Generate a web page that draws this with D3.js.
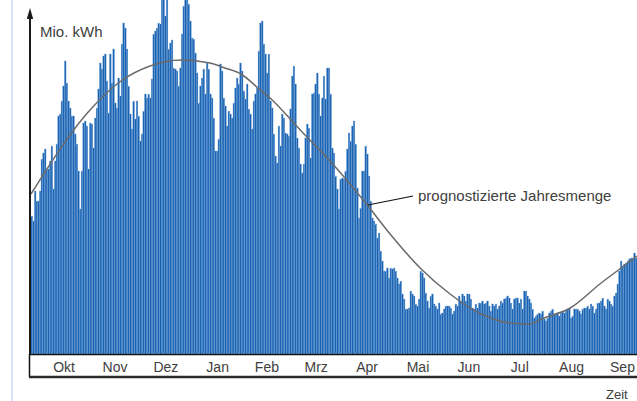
<!DOCTYPE html>
<html>
<head>
<meta charset="utf-8">
<script src="https://cdn.jsdelivr.net/npm/d3@7"></script>
<style>
body { margin: 0; background: #fff; }
#chart { width: 637px; height: 401px; }
text { font-family: "Liberation Sans", Arial, sans-serif; fill: #404040; }
</style>
</head>
<body>
<div id="chart"></div>
<script>
// daily energy, Mio. kWh
var dailyAutumn = [13.8, 13.3, 16.3, 15.3, 15.3, 16.3, 19.5, 20.1, 20.5, 18.5, 18.5, 19.3, 20.8, 16.5, 19.3, 21.0, 23.8, 24.0, 25.3, 26.8,
    29.3, 27.1, 25.3, 24.6, 23.8, 23.8, 22.0, 21.0, 18.3, 14.5, 18.3, 23.1, 23.3, 22.8,
    18.5, 23.1, 23.0, 20.6, 23.6, 24.6, 26.5, 29.1, 28.5, 29.8, 30.0, 27.3, 24.1, 30.0, 27.1, 30.5, 25.1, 24.6, 27.6, 25.8,
    31.0, 33.1, 32.6, 30.5, 26.8, 24.0, 22.5, 25.3, 23.5, 25.3, 23.8, 21.3, 22.0, 24.3, 26.0, 25.6,
    26.0, 25.6, 27.5, 32.0, 32.3, 32.6, 33.1, 33.0, 35.5, 35.5, 33.8, 35.5, 30.5, 31.1, 31.4, 28.6, 28.5, 28.3, 26.8, 28.6,
    32.0, 34.8, 35.5, 35.5, 35.0, 33.3, 31.6, 31.5, 30.1, 28.1, 25.1, 26.8, 27.6, 28.5, 26.0, 29.1];
var dailyWinter = [28.5, 26.0, 25.6, 23.6, 20.3, 20.3, 21.5, 29.0, 28.3, 25.6, 24.8, 22.8, 24.3, 24.0, 23.6, 25.1, 26.6, 27.6,
    27.0, 29.1, 28.3, 26.3, 25.5, 27.0, 24.5, 24.0, 22.5, 25.3, 26.0, 26.6, 30.3, 33.1, 33.3, 31.0, 30.0, 28.1,
    30.0, 25.3, 24.6, 22.0, 19.8, 19.1, 22.8, 20.8, 24.0, 23.6, 22.1, 22.0, 21.8, 24.5, 27.8, 28.8, 27.0, 21.6,
    20.6, 19.0, 18.1, 19.0, 21.6, 23.0, 22.6, 19.6, 26.0, 26.1, 27.0, 28.1, 26.0, 23.8, 25.6, 27.8, 25.5, 28.6];
var dailySpring = [28.6, 26.0, 20.6, 20.1, 17.8, 16.5, 14.5, 17.5, 17.6, 17.5, 18.3, 20.5, 22.1, 21.3, 22.8, 23.3, 21.0, 16.6,
    13.6, 14.6, 18.3, 18.3, 20.8, 20.0, 17.8, 15.3, 13.6, 13.3, 13.0, 11.6, 12.1, 10.3, 9.3, 8.3, 8.3, 8.6,
    7.6, 8.6, 8.5, 8.6, 8.3, 7.6, 7.0, 7.3, 6.0, 5.5, 4.5, 4.5, 4.6, 6.3, 6.0, 5.8, 5.0, 4.8,
    5.5, 8.3, 8.1, 7.6, 6.1, 5.3, 4.6, 5.8, 6.0, 5.0, 4.8, 4.5, 5.1, 4.0, 4.1, 4.5, 4.8, 4.8];
var dailySummer = [4.8, 4.6, 4.0, 4.3, 5.0, 4.8, 5.8, 5.3, 6.0, 5.8, 5.3, 6.0, 6.0, 5.5, 4.6, 4.5, 5.0, 4.6,
    5.1, 5.1, 5.3, 5.0, 5.1, 5.3, 4.8, 4.3, 5.0, 4.8, 5.0, 4.5, 4.8, 5.3, 5.1, 5.5, 5.6, 5.8,
    5.6, 5.1, 4.5, 5.5, 5.6, 5.6, 5.1, 5.5, 4.5, 6.3, 6.3, 5.8, 5.5, 5.1, 4.5, 3.6, 3.8, 4.0,
    4.1, 4.0, 4.3, 3.5, 3.3, 3.6, 4.1, 4.3, 4.5, 4.0, 4.0, 4.1, 3.8, 4.1, 4.3, 4.1, 4.3, 4.5,
    4.5, 3.6, 3.8, 4.5, 4.5, 4.5, 4.3, 4.0, 4.5, 4.6, 4.6, 4.8, 4.5, 5.0, 4.8, 4.1, 4.5, 5.1, 5.1, 5.3,
    5.6, 4.8, 4.5, 5.5, 5.3, 5.0, 4.8, 5.8, 6.1, 7.0, 8.3, 9.3, 8.8, 9.0, 9.1, 9.3, 9.5, 9.6, 9.6, 10.1, 9.6];

// forecast curve: day since start, Mio. kWh
var forecastDay = [0, 34.8, 53.9, 71.3, 89.9, 107.2, 116.2, 125.8, 136, 143.2, 161.8, 179.1, 201.9, 215.1, 233.7, 251,
    269.6, 287, 299, 305.6, 323, 341.5, 353.5, 363];
var forecastValue = [16.0, 24.3, 27.3, 28.8, 29.4, 29.1, 28.6, 28.0, 26.6, 25.6, 22.3, 19.3, 14.8, 12.0, 8.5, 6.0,
    4.0, 3.1, 3.0, 3.5, 4.6, 7.1, 8.6, 9.8];

var monthLabels = ["Okt", "Nov", "Dez", "Jan", "Feb", "Mrz", "Apr", "Mai", "Jun", "Jul", "Aug", "Sep"];
var yLabel = "Mio. kWh",
    xLabel = "Zeit",
    forecastLabel = "prognostizierte Jahresmenge";

var values = dailyAutumn.concat(dailyWinter, dailySpring, dailySummer);
var startDate = new Date(2012, 8, 27);
var data = values.map(function (v, i) {
    return { date: d3.timeDay.offset(startDate, i), value: v };
});

var width = 637,
    height = 401;

var svg = d3.select("#chart")
    .append("svg")
    .attr("width", width)
    .attr("height", height);

var x = d3.scaleTime()
    .domain([startDate, d3.timeDay.offset(startDate, values.length)])
    .range([31, 637]);
var y = d3.scaleLinear()
    .domain([0, 35])
    .range([354, 4]);

// light blue page rule on the left
svg.append("rect")
    .attr("x", 11)
    .attr("y", 0)
    .attr("width", 2)
    .attr("height", height)
    .style("fill", "#d4e4f5");

var step = x(d3.timeDay.offset(startDate, 1)) - x(startDate);

svg.append("g")
    .selectAll("rect")
    .data(data)
    .enter()
    .append("rect")
    .attr("x", function (d) { return x(d.date); })
    .attr("width", step)
    .attr("y", function (d) { return y(d.value); })
    .attr("height", function (d) { return y(0) - y(d.value); })
    .style("fill", "#1a63b2")
    .style("stroke", "#7aa8da")
    .style("stroke-width", 0.35);

// forecast line
var line = d3.line()
    .x(function (d) { return x(new Date(startDate.getTime() + d[0] * 864e5)); })
    .y(function (d) { return y(d[1]); })
    .curve(d3.curveMonotoneX);

svg.append("path")
    .datum(forecastDay.map(function (d, i) { return [d, forecastValue[i]]; }))
    .attr("d", line)
    .style("fill", "none")
    .style("stroke", "#6a6a6a")
    .style("stroke-width", 1.5);

// month axis inside a box
var mids = monthLabels.map(function (m, i) {
    var s = new Date(2012, 9 + i, 1),
        e = new Date(2012, 10 + i, 1);
    return new Date((s.getTime() + e.getTime()) / 2);
});

var xAxis = svg.append("g")
    .attr("transform", "translate(0," + y(0) + ")")
    .call(d3.axisBottom(x)
        .tickValues(mids)
        .tickSize(0)
        .tickPadding(8)
        .tickFormat(function (d, i) { return monthLabels[i]; }));
xAxis.select(".domain").remove();
xAxis.selectAll("text")
    .style("font-size", "14px")
    .style("fill", "#404040")
    .style("font-family", "'Liberation Sans', Arial, sans-serif");

svg.append("line")
    .attr("x1", 29).attr("x2", width)
    .attr("y1", y(0) + 0.5).attr("y2", y(0) + 0.5)
    .style("stroke", "#111").style("stroke-width", 1.5);
svg.append("line")
    .attr("x1", 29.5).attr("x2", 29.5)
    .attr("y1", y(0)).attr("y2", 377)
    .style("stroke", "#111").style("stroke-width", 1.5);
svg.append("line")
    .attr("x1", 29).attr("x2", width)
    .attr("y1", 377).attr("y2", 377)
    .style("stroke", "#2a2a2a").style("stroke-width", 2.5);

// y axis with arrow
svg.append("line")
    .attr("x1", 30).attr("x2", 30)
    .attr("y1", y(0)).attr("y2", 14)
    .style("stroke", "#1a1a1a").style("stroke-width", 2);
svg.append("path")
    .attr("d", "M30,8 L33.2,19 L26.8,19 Z")
    .style("fill", "#1a1a1a");

svg.append("text")
    .attr("x", 40).attr("y", 37)
    .style("font-size", "15px")
    .text(yLabel);

svg.append("text")
    .attr("x", 606).attr("y", 399)
    .style("font-size", "13px")
    .text(xLabel);

// annotation
svg.append("line")
    .attr("x1", 368).attr("y1", 205)
    .attr("x2", 413).attr("y2", 196)
    .style("stroke", "#111").style("stroke-width", 1.2);
svg.append("text")
    .attr("x", 418).attr("y", 201)
    .style("font-size", "15px")
    .text(forecastLabel);
</script>
</body>
</html>
